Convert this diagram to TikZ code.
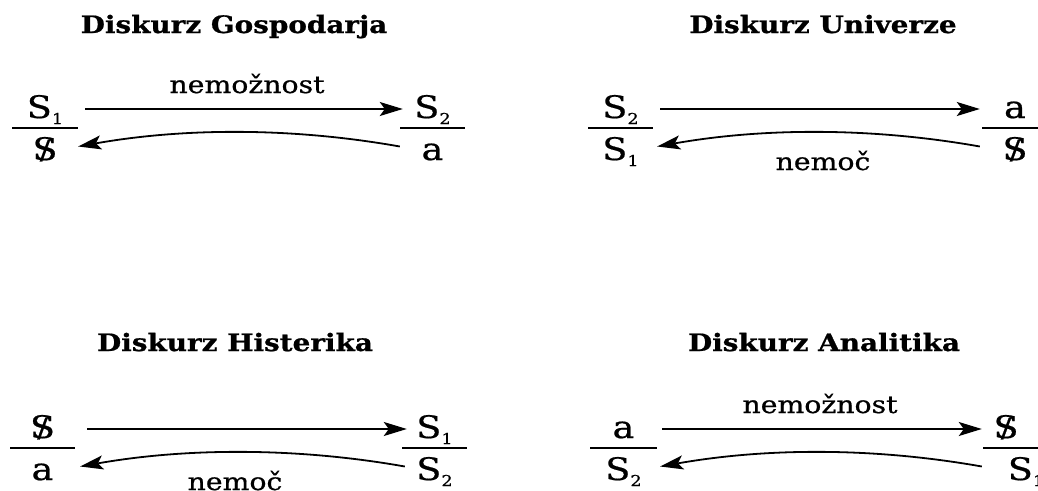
\documentclass[tikz,border=0pt]{standalone}
\usepackage{fontspec}
\setmainfont{DejaVu Serif}
\newfontfamily\labfont{DejaVu Serif}[FakeBold=0.6]
\newfontfamily\ttlfont{DejaVu Serif}[BoldFeatures={FakeBold=0.8}]
\usetikzlibrary{arrows.meta}
\newcommand{\hs}[1]{\scalebox{1.18}[1]{#1}}
\newcommand{\lsub}[1]{\raisebox{-6pt}{\fontsize{15}{15}\selectfont #1}}
\newcommand{\barS}{\ooalign{S\cr\hidewidth\raisebox{1pt}{\scalebox{0.85}{/}}\hidewidth\cr}}
\tikzset{
  ttl/.style={font=\ttlfont\bfseries\fontsize{24}{24}\selectfont, anchor=base, inner sep=0pt},
  lab/.style={font=\labfont\fontsize{31}{31}\selectfont, text height=21pt, text depth=3pt, inner sep=0pt, minimum width=66pt, anchor=center},
  word/.style={font=\labfont\fontsize{24}{24}\selectfont, anchor=base, inner sep=0pt},
  bar/.style={line width=1.8pt},
  arr/.style={line width=1.8pt, -{Stealth[length=23pt, width=14pt, inset=5pt]}},
}
\begin{document}
\begin{tikzpicture}[x=1pt, y=-1pt]
\useasboundingbox (0,0) rectangle (1038,490);
% ---------- Panel 1: Diskurz Gospodarja ----------
\node[ttl] (t1) at (234,33) {\scalebox{1.16}[1]{Diskurz Gospodarja}};
\node[lab] (a1) at (45,109) {\hs{S\lsub{1}}};
\node[lab] (c1) at (45,151) {\hs{\barS}};
\node[lab] (b1) at (432.5,109) {\hs{S\lsub{2}}};
\node[lab] (d1) at (432.5,151) {\hs{a}};
\draw[bar] (12,128) -- (78,128);
\draw[bar] (400,128) -- (465,128);
\node[word] (w1) at (247,93) {\hs{nemožnost}};
\draw[arr] ([xshift=7pt]a1.east) -- ([xshift=3.5pt]b1.west);
\draw[arr] ([xshift=0.5pt,yshift=4.5pt]d1.west) .. controls +(-107,-19) and +(107,-19) .. ([yshift=4.5pt]c1.east);
% ---------- Panel 2: Diskurz Univerze ----------
\node[ttl] (t2) at (823,33) {\scalebox{1.16}[1]{Diskurz Univerze}};
\node[lab] (a2) at (620.5,109) {\hs{S\lsub{2}}};
\node[lab] (c2) at (620.5,151) {\hs{S\lsub{1}}};
\node[lab] (b2) at (1015,109) {\hs{a}};
\node[lab] (d2) at (1015,151) {\hs{\barS}};
\draw[bar] (588,128) -- (653,128);
\draw[bar] (982,128) -- (1048,128);
\node[word] (w2) at (823,170) {\hs{nemoč}};
\draw[arr] ([xshift=6.5pt]a2.east) -- ([xshift=-2pt]b2.west);
\draw[arr] ([xshift=-2pt,yshift=4.5pt]d2.west) .. controls +(-107,-19) and +(107,-19) .. ([xshift=3.5pt,yshift=4.5pt]c2.east);
% ---------- Panel 3: Diskurz Histerika ----------
\node[ttl] (t3) at (235,351) {\scalebox{1.16}[1]{Diskurz Histerika}};
\node[lab] (a3) at (42.5,429) {\hs{\barS}};
\node[lab] (c3) at (42.5,471) {\hs{a}};
\node[lab] (b3) at (434.5,429) {\hs{S\lsub{1}}};
\node[lab] (d3) at (434.5,471) {\hs{S\lsub{2}}};
\draw[bar] (10,448) -- (75,448);
\draw[bar] (402,448) -- (467,448);
\node[word] (w3) at (235,490) {\hs{nemoč}};
\draw[arr] ([xshift=11.5pt]a3.east) -- ([xshift=5.5pt]b3.west);
\draw[arr] ([xshift=3.5pt,yshift=4.5pt]d3.west) .. controls +(-107,-19) and +(107,-19) .. ([xshift=4.5pt,yshift=4.5pt]c3.east);
% ---------- Panel 4: Diskurz Analitika ----------
\node[ttl] (t4) at (824,351) {\scalebox{1.16}[1]{Diskurz Analitika}};
\node[lab] (a4) at (623.5,429) {\hs{a}};
\node[lab] (c4) at (623.5,471) {\hs{S\lsub{2}}};
\node[lab] (b4) at (1006,429) {\hs{\barS}};
\node[lab] (d4) at (1026,471) {\hs{S\lsub{1}}};
\draw[bar] (590,448) -- (657,448);
\draw[bar] (983,448) -- (1050,448);
\node[word] (w4) at (820,413) {\hs{nemožnost}};
\draw[arr] ([xshift=5.5pt]a4.east) -- ([xshift=9pt]b4.west);
\draw[arr] ([xshift=-11pt,yshift=4.5pt]d4.west) .. controls +(-107,-19) and +(107,-19) .. ([xshift=3.5pt,yshift=4.5pt]c4.east);
\end{tikzpicture}
\end{document}
